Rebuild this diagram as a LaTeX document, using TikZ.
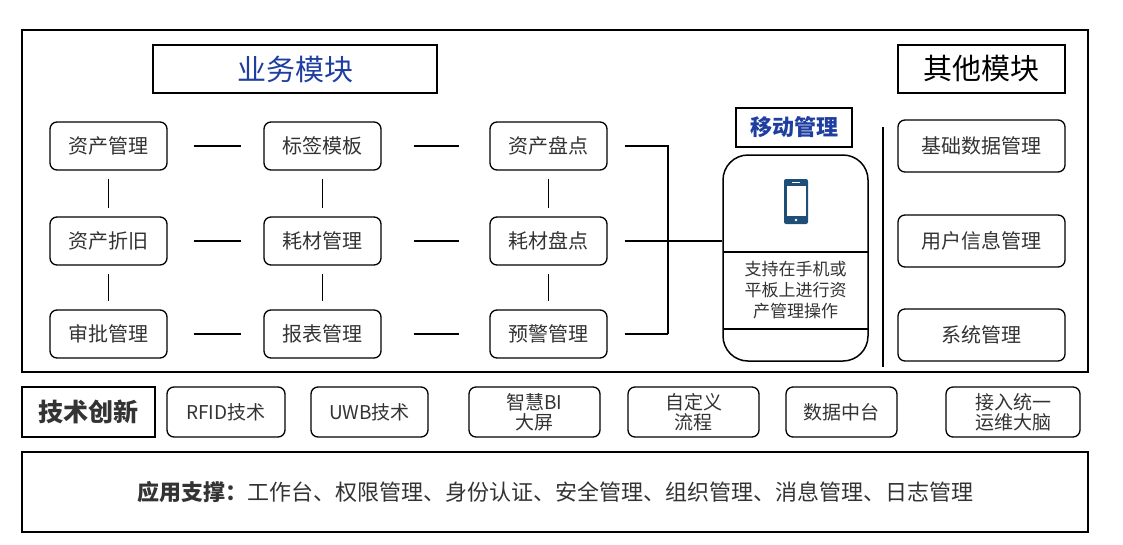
\documentclass[tikz,border=0pt]{standalone}
\usepackage{fontspec}
\setmainfont{Noto Sans CJK SC}
\usetikzlibrary{positioning}
\definecolor{tx}{HTML}{333333}
\definecolor{bl}{HTML}{1F3FA0}
\definecolor{ph}{HTML}{1F4E79}
\tikzset{
 mod/.style={draw,rounded corners=7pt,line width=1.3pt,minimum width=117pt,minimum height=48pt,font=\fontsize{20}{22}\selectfont,text=tx},
 rmod/.style={mod,minimum width=167pt,minimum height=52pt},
 tech/.style={draw,rounded corners=7pt,line width=1.3pt,minimum height=50pt,font=\fontsize{19}{20}\selectfont,text=tx,align=center,inner sep=1pt},
 lnk/.style={line width=1.3pt,shorten <=26pt,shorten >=22pt},
 vlnk/.style={line width=1.3pt,shorten <=8pt,shorten >=8pt},
}
\begin{document}
\begin{tikzpicture}[x=1pt,y=-1pt]
\useasboundingbox (0,0) rectangle (1123,544);
\draw[line width=1.5pt] (22,30) rectangle (1088,372);
\node[draw,line width=1.3pt,minimum width=284pt,minimum height=48pt,text=bl,font=\fontsize{29}{31}\selectfont] (yw) at (295,69) {业务模块};
\node[draw,line width=1.3pt,minimum width=167pt,minimum height=48pt,font=\fontsize{29}{31}\selectfont] (qt) at (981.5,69) {其他模块};
% grid
\node[mod] (a1) at (108.5,146) {资产管理};
\node[mod] (a2) at (108.5,241) {资产折旧};
\node[mod] (a3) at (108.5,334) {审批管理};
\node[mod] (b1) at (322.5,146) {标签模板};
\node[mod] (b2) at (322.5,241) {耗材管理};
\node[mod] (b3) at (322.5,334) {报表管理};
\node[mod] (c1) at (548.5,146) {资产盘点};
\node[mod] (c2) at (548.5,241) {耗材盘点};
\node[mod] (c3) at (548.5,334) {预警管理};
\foreach \r in {1,2,3}{
 \draw[lnk] (a\r) -- (b\r);
 \draw[lnk,shorten <=32pt,shorten >=30pt] (b\r) -- (c\r);
}
\foreach \c in {a,b,c}{
 \draw[vlnk] (\c1) -- (\c2);
 \draw[vlnk] (\c2) -- (\c3);
}
% mobile
\node[draw,line width=1.3pt,minimum width=116pt,minimum height=39pt,text=bl,font=\fontsize{22}{24}\selectfont\bfseries] (yd) at (794,127.5) {移动管理};
\node[draw,line width=1.5pt,rounded corners=25pt,minimum width=145pt,minimum height=206pt] (phone) at (795.5,258) {};
\draw[line width=1.3pt] (723,252) -- (868,252);
\draw[line width=1.3pt] (723,329) -- (868,329);
\node[align=center,text=tx,font=\fontsize{17}{21}\selectfont] (ptxt) at (795.5,290.5) {支持在手机或\\平板上进行资\\产管理操作};
% phone icon
\fill[ph,rounded corners=2pt] (784,179) rectangle (808,224);
\fill[white] (786.5,186) rectangle (805.5,216);
\fill[white] (796,220) circle (1.3pt);
\draw[white,line width=0.8pt] (792,182.5) -- (800,182.5);
% bracket
\coordinate (br1) at (668,146);
\coordinate (br3) at (668,334);
\draw[line width=1.3pt,shorten <=17pt] (c1.east) -- (br1) -- (br3);
\draw[line width=1.3pt,shorten <=17pt] (c3.east) -- (br3);
\draw[line width=1.3pt,shorten <=17pt] (c2.east) -- (c2.east -| phone.west);
% separator
\draw[line width=1.5pt] (883,127) -- (883,367);
\node[rmod] (r1) at (981.5,146) {基础数据管理};
\node[rmod] (r2) at (981.5,241) {用户信息管理};
\node[rmod] (r3) at (981.5,335) {系统管理};
% tech
\node[draw,line width=1.3pt,minimum width=133pt,minimum height=50pt,font=\fontsize{25}{27}\selectfont\bfseries,text=tx] (js) at (88.5,412) {技术创新};
\node[tech,minimum width=118pt] (t1) at (226,412) {RFID技术};
\node[tech,minimum width=117pt] (t2) at (369.5,412) {UWB技术};
\node[tech,minimum width=131pt] (t3) at (534.5,412) {智慧BI\\大屏};
\node[tech,minimum width=131pt] (t4) at (693.5,412) {自定义\\流程};
\node[tech,minimum width=111pt] (t5) at (841.5,412) {数据中台};
\node[tech,minimum width=134pt] (t6) at (1013,412) {接入统一\\运维大脑};
% bottom
\node[draw,line width=1.5pt,minimum width=1066pt,minimum height=80pt,text=tx,font=\fontsize{22}{24}\selectfont] (app) at (555,492) {\textbf{应用支撑：}工作台、权限管理、身份认证、安全管理、组织管理、消息管理、日志管理};
\end{tikzpicture}
\end{document}
